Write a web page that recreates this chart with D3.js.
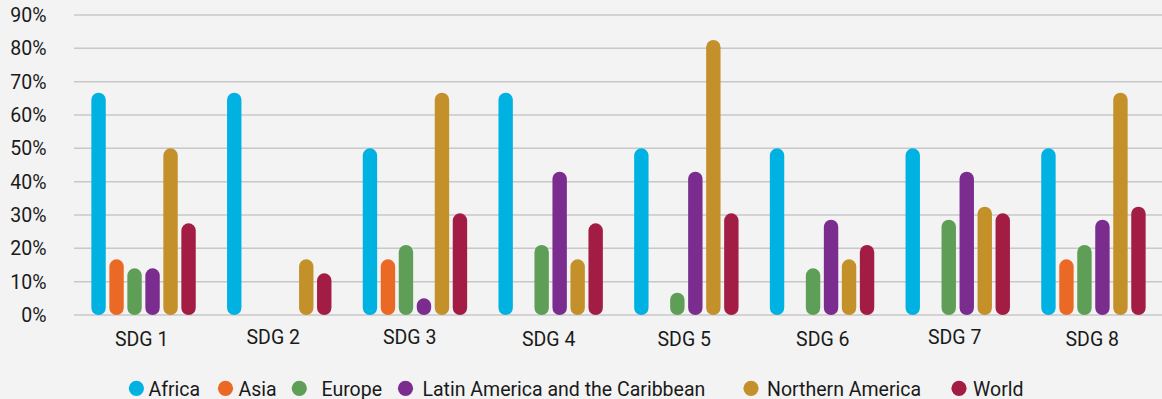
<!DOCTYPE html>
<html>
<head>
<meta charset="utf-8">
<script src="https://cdn.jsdelivr.net/npm/d3@7"></script>
<style>
  html, body { margin: 0; padding: 0; background: #f3f3f3; }
  svg { display: block; font-family: Roboto, "Noto Sans", sans-serif; }
</style>
</head>
<body>
<svg id="chart" width="1162" height="399"></svg>
<script>
// SDG categories and share of respondents by region
const categories = ["SDG 1", "SDG 2", "SDG 3", "SDG 4", "SDG 5", "SDG 6", "SDG 7", "SDG 8"];
const seriesNames = ["Africa", "Asia", "Europe", "Latin America and the Caribbean", "Northern America", "World"];
const africa   = [66.7, 66.7, 50, 66.7, 50, 50, 50, 50];
const asia     = [16.7, null, 16.7, null, null, null, null, 16.7];
const europe   = [14, null, 21, 21, 6.7, 14, 28.6, 21];
const latam    = [14, null, 5, 43, 43, 28.6, 43, 28.6];
const northAm  = [50, 16.7, 66.7, 16.7, 82.5, 16.7, 32.5, 66.7];
const world    = [27.5, 12.5, 30.5, 27.5, 30.5, 21, 30.5, 32.5];
const yTicks   = [0, 10, 20, 30, 40, 50, 60, 70, 80, 90];
const colors   = ["#00b2e2", "#ea6a25", "#5f9e56", "#7a2c8f", "#c4902a", "#a31c44"];

const seriesValues = [africa, asia, europe, latam, northAm, world];

const svg = d3.select("#chart");
const W = 1162;
const plot = { left: 75.7, right: 1161.3, top: 15, bottom: 315 };

const x0 = d3.scaleBand().domain(categories).range([plot.left, plot.right]).padding(0);
const y = d3.scaleLinear().domain([0, 90]).range([plot.bottom, plot.top]);
const color = d3.scaleOrdinal().domain(seriesNames).range(colors);

// horizontal gridlines
svg.append("g")
  .selectAll("line")
  .data(yTicks)
  .join("line")
  .attr("x1", 74).attr("x2", W)
  .attr("y1", d => y(d)).attr("y2", d => y(d))
  .attr("stroke", "#c8c8c8")
  .attr("stroke-width", 1.5);

// y tick labels
svg.append("g")
  .selectAll("text")
  .data(yTicks)
  .join("text")
  .attr("x", 46.5)
  .attr("y", d => y(d))
  .attr("dy", "0.36em")
  .attr("text-anchor", "end")
  .attr("font-size", 19.5)
  .attr("fill", "#1a1a1a")
  .text(d => d + "%");

// bars: rounded pills, one group per SDG
const groups = svg.append("g")
  .selectAll("g")
  .data(categories)
  .join("g")
  .attr("transform", d => `translate(${x0(d)},0)`);

const bw = x0.bandwidth();
const x1 = d3.scaleBand().domain(seriesNames)
  .range([bw / 2 - 54, bw / 2 + 54])
  .paddingInner(0.2).paddingOuter(0.1);

groups.selectAll("rect")
  .data((c, ci) => seriesNames.map((s, si) => ({ s, v: seriesValues[si][ci] })).filter(d => d.v != null))
  .join("rect")
  .attr("x", d => x1(d.s))
  .attr("width", x1.bandwidth())
  .attr("y", d => y(d.v))
  .attr("height", d => y(0) - y(d.v))
  .attr("rx", x1.bandwidth() / 2)
  .attr("fill", d => color(d.s));

// category labels (small hand-tuned nudges relative to the group centre)
const labelDx = [-1.9, -6, -5.3, -2, -2.1, 0.8, -3.1, -1.2];
const labelY  = [345.5, 343.5, 343.5, 345.5, 345.5, 346, 343.5, 345.5];
svg.append("g")
  .selectAll("text")
  .data(categories)
  .join("text")
  .attr("x", (d, i) => x0(d) + bw / 2 + labelDx[i])
  .attr("y", (d, i) => labelY[i])
  .attr("text-anchor", "middle")
  .attr("font-size", 19.5)
  .attr("fill", "#1a1a1a")
  .text(d => d);

// legend
const legendX = [136.4, 225.5, 299.3, 405.5, 751, 959];
const legendTextX = [148.5, 238.5, 321.5, 422.5, 767, 973];
const legend = svg.append("g");
seriesNames.forEach((s, i) => {
  legend.append("circle")
    .attr("cx", legendX[i]).attr("cy", 388.3).attr("r", 7.6)
    .attr("fill", colors[i]);
  legend.append("text")
    .attr("x", legendTextX[i]).attr("y", 395.5)
    .attr("font-size", 19.5)
    .attr("fill", "#1a1a1a")
    .text(s);
});
</script>
</body>
</html>
